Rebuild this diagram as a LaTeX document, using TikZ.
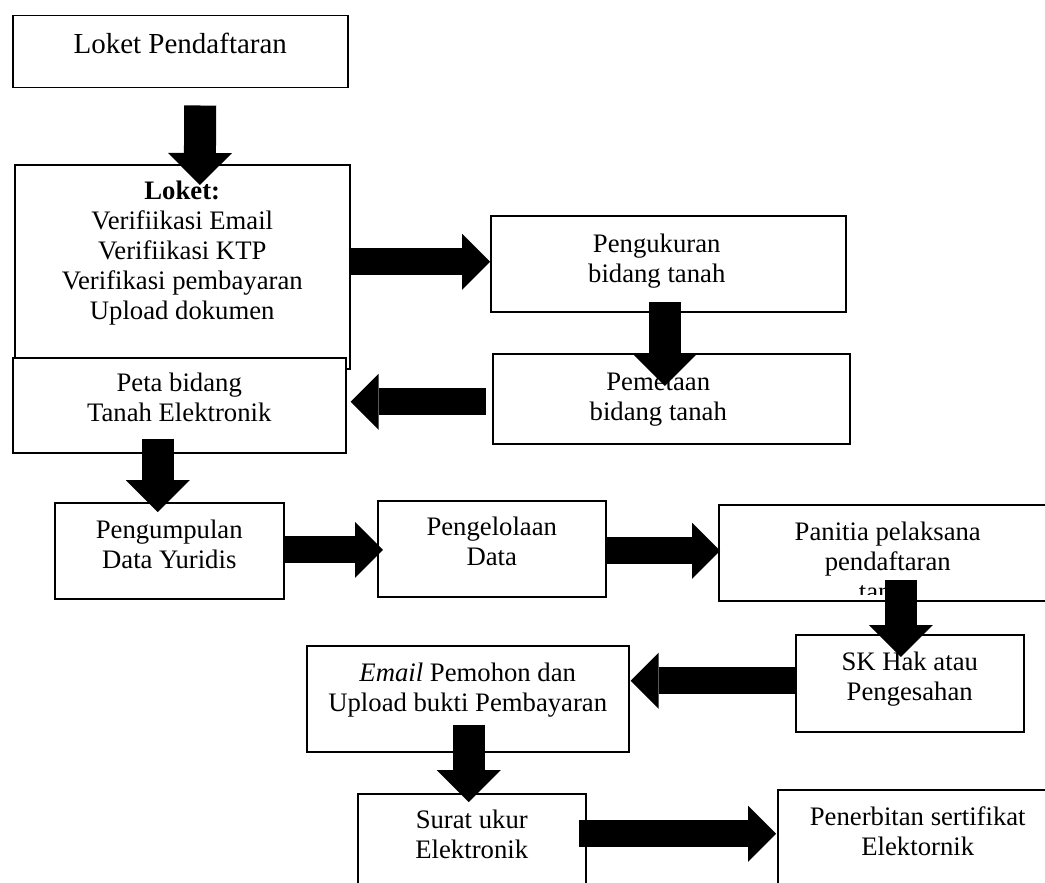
\documentclass[tikz,border=0pt]{standalone}
\usepackage{fontspec}
\setmainfont{Liberation Serif}
\usetikzlibrary{arrows.meta, calc, positioning}

\newcommand{\isifont}{\fontsize{26.7}{30}\selectfont}
\newcommand{\isi}[4]{\parbox[c][#2][t]{#1}{\centering\rule{0pt}{#3}#4}}

\tikzset{
  kotak/.style={draw, line width=1.5pt, fill=white, inner sep=0pt, anchor=north west, font=\isifont},
  panahv/.style={line width=32pt, -{Triangle[length=32pt, width=64pt, line width'=0pt]}},
  panahh/.style={line width=27pt, -{Triangle[length=28pt, width=56pt, line width'=0pt]}},
}

\begin{document}
\begin{tikzpicture}[x=1pt, y=-1pt]
\useasboundingbox (0,0) rectangle (1045,883);
\clip (0,0) rectangle (1045,883);

\node[kotak, font=\fontsize{29}{33}\selectfont] (daftar) at (12,15) {\isi{335pt}{72pt}{38pt}{Loket Pendaftaran}};
\node[kotak] (loket) at (14,164) {\isi{335pt}{204pt}{35pt}{\textbf{Loket:}\\Verifiikasi Email\\Verifiikasi KTP\\Verifikasi pembayaran\\Upload dokumen}};
\node[kotak] (peta) at (12,357) {\isi{333pt}{95pt}{34pt}{Peta bidang\\Tanah Elektronik}};
\node[kotak] (pengukuran) at (490,215) {\isi{355pt}{96pt}{37pt}{\rightskip=23pt plus 1fil Pengukuran\\bidang tanah}};
\node[kotak] (pemetaan) at (492,353) {\isi{357pt}{90pt}{37pt}{\rightskip=26pt plus 1fil Pemetaan\\bidang tanah}};

\node[kotak] (pengumpulan) at (54,502) {\isi{229pt}{96pt}{36pt}{Pengumpulan\\Data Yuridis}};
\node[kotak] (pengelolaan) at (377,500) {\isi{228pt}{96pt}{35pt}{Pengelolaan\\Data}};
\node[kotak] (panitia) at (718,504) {\isi{338pt}{96pt}{36pt}{Panitia pelaksana\\pendaftaran}};
\node[kotak] (sk) at (795,634) {\isi{228pt}{97pt}{36pt}{SK Hak atau\\Pengesahan}};
\node[kotak] (email) at (306,645) {\isi{322pt}{106pt}{36pt}{\textit{Email} Pemohon dan\\Upload bukti Pembayaran}};
\node[kotak] (surat) at (357,793) {\isi{228pt}{96pt}{35pt}{Surat ukur\\Elektronik}};
\node[kotak] (penerbitan) at (777,789) {\isi{280pt}{96pt}{36pt}{Penerbitan sertifikat\\Elektornik}};

% baris ketiga panitia terpotong
\begin{scope}
\clip (panitia.north west) rectangle ($(panitia.south east)+(0,-7)$);
\node[font=\isifont, anchor=base] (tanah) at ($(panitia.north)+(0,96)$) {tanah};
\end{scope}

% panah
\draw[panahv] ($(daftar.south)+(20,17)$) -- ($(loket.north)+(17.5,21)$);
\draw[panahh] ($(loket.east |- pengukuran.west)+(-2,-2)$) -- ($(pengukuran.west)+(0,-2)$);
\draw[panahv] ($(pengukuran.south)+(-3.5,-11)$) -- ($(pemetaan.north)+(-6.5,33)$);
\draw[panahh] ($(pemetaan.west)+(-6,3)$) -- ($(peta.east)+(4,-3.5)$);
\draw[panahv] ($(peta.south)+(-21.5,-15)$) -- ($(pengumpulan.north)+(-11.5,10)$);
\draw[panahh] ($(pengumpulan.east)+(0,-1)$) -- ($(pengelolaan.west)+(6,1)$);
\draw[panahh] ($(pengelolaan.east)+(0,2)$) -- ($(panitia.west)+(2,-2)$);
\draw[panahv] ($(panitia.south)+(13,-22)$) -- ($(sk.north)+(-9,23)$);
\draw[panahh] ($(sk.west)+(0,-2.5)$) -- ($(email.east)+(1,-18)$);
\draw[panahv] ($(email.south)+(1,-28)$) -- ($(surat.north)+(-3,9)$);
\draw[panahh] ($(surat.east)+(-8,-8)$) -- ($(penerbitan.west)+(-1,-4)$);

\end{tikzpicture}
\end{document}
